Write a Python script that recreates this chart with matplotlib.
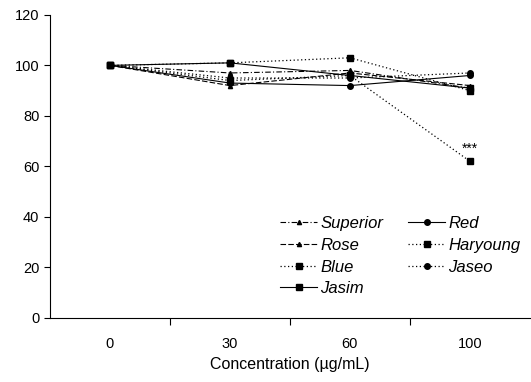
import matplotlib.pyplot as plt
import numpy as np

plt.rcParams['font.family'] = ['Liberation Sans', 'DejaVu Sans']

conc = ["0", "30", "60", "100"]
superior = [100, 97, 98, 91]
rose = [100, 92, 97, 92]
blue = [100, 94, 96, 62]
jasim = [100, 101, 96, 91]
red = [100, 93, 92, 96]
haryoung = [100, 101, 103, 90]
jaseo = [100, 95, 95, 97]

fig = plt.figure(figsize=(5.31, 3.82), dpi=100)
ax = fig.add_axes([0.094, 0.168, 0.904, 0.793])
x = np.arange(len(conc))

ax.plot(x, superior, color="k", ls=(0, (5, 2, 1, 2)), lw=0.8, marker="^", ms=3, label="Superior")
ax.plot(x, rose, color="k", ls=(0, (5, 2)), lw=0.8, marker="^", ms=3, label="Rose")
ax.plot(x, blue, color="k", ls=(0, (1, 2)), lw=0.9, marker="s", ms=5, label="Blue")
ax.plot(x, jasim, color="k", ls="-", lw=0.8, marker="s", ms=5, label="Jasim")
ax.plot(x, red, color="k", ls="-", lw=0.8, marker="o", ms=4, label="Red")
ax.plot(x, haryoung, color="k", ls=(0, (1, 2)), lw=0.9, marker="s", ms=5, label="Haryoung")
ax.plot(x, jaseo, color="k", ls=(0, (1, 2)), lw=0.9, marker="o", ms=4, label="Jaseo")

ax.text(x[3], blue[3] + 2, "***", ha="center", va="bottom", fontsize=10)

ax.set_xlim(-0.5, 3.5)
ax.set_ylim(0, 120)
ax.set_yticks(np.arange(0, 121, 20))
ax.set_xticks(x)
ax.set_xticklabels(conc)
ax.set_xticks([0.5, 1.5, 2.5], minor=True)
ax.tick_params(axis="x", which="major", length=0, pad=14, labelsize=10.5)
ax.tick_params(axis="x", which="minor", length=5, direction="out", width=0.8)
ax.tick_params(axis="y", length=4, width=0.8, labelsize=10.5)
ax.spines["top"].set_visible(False)
ax.spines["right"].set_visible(False)
ax.spines["left"].set_linewidth(0.8)
ax.spines["bottom"].set_linewidth(0.8)
ax.set_xlabel("Concentration (µg/mL)", fontsize=11.5, labelpad=4)

leg = ax.legend(ncol=2, frameon=False, loc="upper left", bbox_to_anchor=(0.449, 0.385),
                prop={"style": "italic", "size": 12}, handlelength=2.2,
                columnspacing=1.5, labelspacing=0.4, handletextpad=0.2)

fig.savefig("out.png", dpi=100)
